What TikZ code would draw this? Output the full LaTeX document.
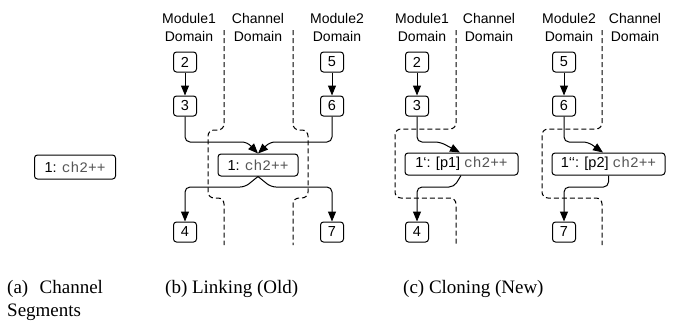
\documentclass[tikz,border=0pt]{standalone}
\usepackage{fontspec}
\setmainfont{Liberation Serif}
\setsansfont{Liberation Sans}
\setmonofont{Liberation Mono}
\usetikzlibrary{arrows.meta}
\definecolor{codegray}{HTML}{555555}
\newcommand{\cc}[1]{{\ttfamily\color{codegray}#1}}
\newcommand{\gr}{\symbol{96}}
\tikzset{
  sbox/.style={draw, rounded corners=3pt, line width=1pt, minimum width=23pt, minimum height=20pt, inner sep=1pt, font=\sffamily\fontsize{14.5}{16}\selectfont},
  wbox/.style={sbox, minimum height=22pt, inner sep=3pt},
  lbl/.style={align=center, inner sep=0pt, font=\sffamily\fontsize{14}{18}\selectfont},
  bnd/.style={dashed, dash pattern=on 5pt off 3pt, line width=1pt, rounded corners=6pt},
  arr/.style={line width=1pt, rounded corners=5pt, -{Triangle[length=10pt,width=8pt]}},
  captxt/.style={anchor=base west, inner sep=0pt, font=\fontsize{19}{23}\selectfont, align=left}
}
\begin{document}
\begin{tikzpicture}[x=1pt,y=-1pt]
\useasboundingbox (0,0) rectangle (683,322);
% (a)
\node[wbox, minimum width=81pt, minimum height=24pt] (a1) at (75,167) {1: \cc{ch2++}};
% (b)
\node[lbl] (bl1) at (189,27.5) {Module1\\Domain};
\node[lbl] (bl2) at (258,27.5) {Channel\\Domain};
\node[lbl] (bl3) at (337,27.5) {Module2\\Domain};
\node[sbox] (b2) at (185,62) {2};
\node[sbox] (b3) at (185,106) {3};
\node[sbox] (b4) at (185,232) {4};
\node[sbox] (b5) at (332,62) {5};
\node[sbox] (b6) at (332,106) {6};
\node[sbox] (b7) at (332,232) {7};
\node[wbox, minimum width=80pt] (b1) at (258,165) {1: \cc{ch2++}};
\draw[bnd] (224,30) -- (224,130) -- (208,130) -- (208,198) -- (224,198) -- (224,245);
\draw[bnd] (293,30) -- (293,130) -- (308,130) -- (308,198) -- (293,198) -- (293,245);
\draw[arr] (b2) -- (b3);
\draw[arr] (b5) -- (b6);
\draw[arr] (b3) -- (b3 |- 0,142) -- (247,142) -- (b1.north);
\draw[arr] (b6) -- (b6 |- 0,142) -- (270,142) -- (b1.north);
\draw[arr] (b1.south) -- (245,187) -- (b4 |- 0,187) -- (b4);
\draw[arr] (b1.south) -- (271,187) -- (b7 |- 0,187) -- (b7);
% (c) left
\node[lbl] (cl1) at (422,27.5) {Module1\\Domain};
\node[lbl] (cl2) at (489,27.5) {Channel\\Domain};
\node[sbox] (c2) at (417,62) {2};
\node[sbox] (c3) at (417,106) {3};
\node[sbox] (c4) at (417,232) {4};
\node[wbox, minimum width=113pt] (c1) at (461.5,164) {1\gr: [p1] \cc{ch2++}};
\draw[bnd] (456,30) -- (456,129) -- (395,129) -- (395,198) -- (456,198) -- (456,245);
\draw[arr] (c2) -- (c3);
\draw[arr] (c3) -- (c3 |- 0,142) -- (440,142) -- (c1.north -| 460,0);
\draw[arr] (c1.south -| 461,0) -- (454,187) -- (c4 |- 0,187) -- (c4);
% (c) right
\node[lbl] (dl1) at (569,27.5) {Module2\\Domain};
\node[lbl] (dl2) at (635,27.5) {Channel\\Domain};
\node[sbox] (d5) at (564,62) {5};
\node[sbox] (d6) at (564,106) {6};
\node[sbox] (d7) at (564,232) {7};
\node[wbox, minimum width=113pt] (d1) at (608.5,164) {1\gr\gr: [p2] \cc{ch2++}};
\draw[bnd] (602,30) -- (602,129) -- (542,129) -- (542,198) -- (602,198) -- (602,245);
\draw[arr] (d5) -- (d6);
\draw[arr] (d6) -- (d6 |- 0,142) -- (588,142) -- (d1.north -| 603,0);
\draw[arr] (d1.south) -- (d1.south |- 0,187) -- (d7 |- 0,187) -- (d7);
% captions
\node[captxt] (capa) at (7,316) {(a)\hspace{0.6em}Channel\\Segments};
\node[captxt] (capb) at (165,293) {(b) Linking (Old)};
\node[captxt] (capc) at (403,293) {(c) Cloning (New)};
\end{tikzpicture}
\end{document}
